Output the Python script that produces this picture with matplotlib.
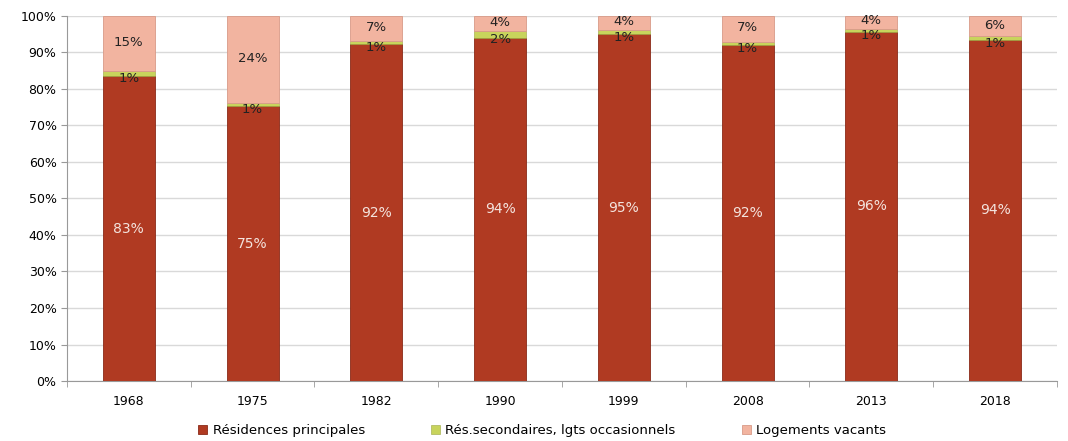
import numpy as np
import matplotlib.pyplot as plt
from matplotlib.ticker import FixedLocator

years = ['1968', '1975', '1982', '1990', '1999', '2008', '2013', '2018']
principales = [83.5, 75.2, 92.3, 94.0, 94.9, 92.0, 95.7, 93.5]
secondaires = [1.3, 1.0, 0.9, 1.8, 1.2, 0.8, 0.8, 0.9]
vacants = [15.2, 23.8, 6.8, 4.2, 3.9, 7.2, 3.5, 5.6]

lab_princ = ['83%', '75%', '92%', '94%', '95%', '92%', '96%', '94%']
lab_sec = ['1%', '1%', '1%', '2%', '1%', '1%', '1%', '1%']
lab_vac = ['15%', '24%', '7%', '4%', '4%', '7%', '4%', '6%']

c_red = '#b03a22'
c_green = '#c8d45c'
c_pink = '#f2b4a0'

fig = plt.figure(figsize=(10.68, 4.41), dpi=100)
ax = fig.add_axes([0.0627, 0.136, 0.927, 0.828])

x = np.arange(len(years))
w = 0.42
p = np.array(principales)
s = np.array(secondaires)
v = np.array(vacants)

ax.bar(x, p, w, color=c_red, edgecolor='#8a2a18', linewidth=0.6, zorder=3,
       label='Résidences principales')
ax.bar(x, s, w, bottom=p, color=c_green, edgecolor='#9aa640', linewidth=0.4, zorder=3,
       label='Rés.secondaires, lgts occasionnels')
ax.bar(x, v, w, bottom=p + s, color=c_pink, edgecolor='#d89a88', linewidth=0.6, zorder=3,
       label='Logements vacants')

for i in range(len(years)):
    ax.text(x[i], p[i] / 2, lab_princ[i], ha='center', va='center',
            color='#f4e4de', fontsize=10, zorder=4)
    ax.text(x[i], p[i] + s[i] / 2 - 1.4, lab_sec[i], ha='center', va='center',
            color='#222222', fontsize=9.5, zorder=4)
    ax.text(x[i], max(p[i] + s[i] + v[i] / 2 + 0.3, p[i] + s[i] + 2.3), lab_vac[i],
            ha='center', va='center', color='#222222', fontsize=9.5, zorder=4)

ax.set_xlim(-0.5, len(years) - 0.5)
ax.set_ylim(0, 100)
ax.set_yticks(np.arange(0, 101, 10))
ax.set_yticklabels([f'{t}%' for t in range(0, 101, 10)], fontsize=9)
ax.set_xticks(x)
ax.set_xticklabels(years, fontsize=9)
ax.tick_params(axis='x', length=0, pad=10)
ax.xaxis.set_minor_locator(FixedLocator(np.arange(-0.5, len(years), 1)))
ax.tick_params(axis='x', which='minor', length=4, color='#999999')
ax.tick_params(axis='y', length=4, color='#999999')

ax.grid(axis='y', color='#d9d9d9', linewidth=1, zorder=0)
for side in ['top', 'right']:
    ax.spines[side].set_visible(False)
ax.spines['left'].set_color('#999999')
ax.spines['bottom'].set_color('#999999')

ax.legend(loc='upper center', bbox_to_anchor=(0.48, -0.085), ncol=3, frameon=False,
          fontsize=9.5, handlelength=0.7, handleheight=0.7, columnspacing=5,
          handletextpad=0.4)

fig.savefig('out.png', dpi=100)
